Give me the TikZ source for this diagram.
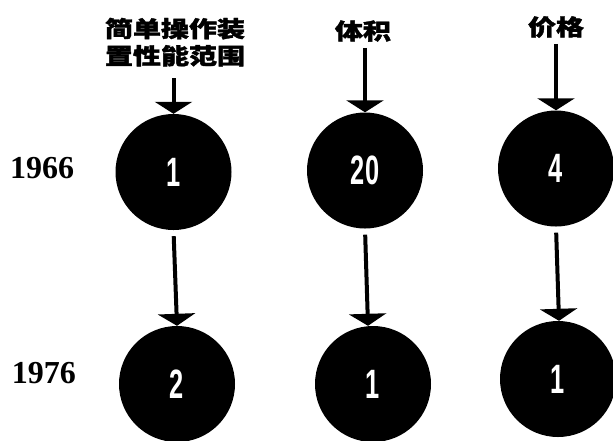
\documentclass[tikz,border=0pt]{standalone}
\usepackage{fontspec}
\setmainfont{Liberation Serif}
\newfontfamily\cjk[BoldFeatures={FakeBold=1.5}]{Noto Sans CJK SC}
\newfontfamily\numfont{Liberation Sans}
\usetikzlibrary{arrows.meta,calc}
\newcommand\narrowtxt[1]{\scalebox{0.62}[1]{#1}}
\begin{document}
\begin{tikzpicture}[x=1pt,y=-1pt,
  ball/.style={circle,fill=black,minimum size=116pt,inner sep=0pt,text=white,
    font=\numfont\bfseries\fontsize{41}{41}\selectfont},
  lbl/.style={inner sep=0pt,font=\cjk\bfseries\fontsize{28}{33}\selectfont},
  yr/.style={inner sep=0pt,font=\bfseries\fontsize{32}{32}\selectfont},
  arr/.style={line width=4pt,-{Triangle[width=37pt,length=12pt]}}]
\useasboundingbox (0,0) rectangle (613,440);
% circles
\node[ball] (c11) at (173.5,172) {\narrowtxt{1}};
\node[ball] (c21) at (365,170.5) {\narrowtxt{20}};
\node[ball] (c31) at (556,168.5) {\narrowtxt{4}};
\node[ball] (c12) at (177,384) {\narrowtxt{2}};
\node[ball] (c22) at (373,384) {\narrowtxt{1}};
\node[ball] (c32) at (558,379) {\narrowtxt{1}};
% labels
\node[lbl] (l1) at (175,45) {\scalebox{1}[0.8]{\begin{tabular}{@{}c@{}}简单操作装\\置性能范围\end{tabular}}};
\node[lbl] (l2) at (363,31) {\scalebox{1}[0.8]{体积}};
\node[lbl] (l3) at (556,27) {\scalebox{1}[0.8]{价格}};
% years
\node[yr] (y1) at (42,168) {1966};
\node[yr] (y2) at (44,373) {1976};
% arrows
\draw[arr,shorten <=6pt] (l1.south -| c11.north) -- (c11.north);
\draw[arr,shorten <=6pt] (l2.south -| c21.north) -- (c21.north);
\draw[arr,shorten <=6pt] (l3.south -| c31.north) -- (c31.north);
\draw[arr,shorten <=6pt] (c11.south) -- (c12.north);
\draw[arr,shorten <=6pt] (c21.south) -- ($(c22.north)+(-5,0)$);
\draw[arr,shorten <=6pt] (c31.south) -- ($(c32.north)+(1,0)$);
\end{tikzpicture}
\end{document}
